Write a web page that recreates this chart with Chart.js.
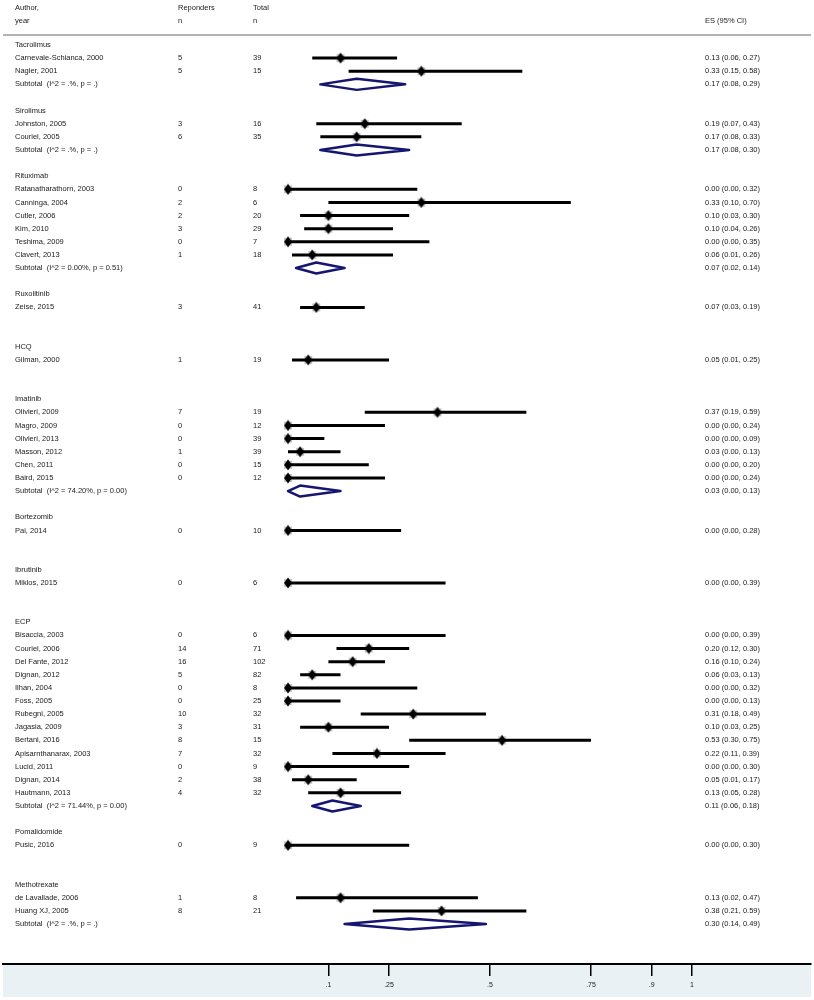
<!DOCTYPE html>
<html>
<head>
<meta charset="utf-8">
<script src="https://cdn.jsdelivr.net/npm/chart.js@4"></script>
<style>
  body { margin: 0; background: #fff; }
  canvas { display: block; }
</style>
</head>
<body>
<canvas id="forest" width="814" height="1000"></canvas>
<script>
// groups
const groupNames = ['Tacrolimus', 'Sirolimus', 'Rituximab', 'Ruxolitinib', 'HCQ', 'Imatinib',
  'Bortezomib', 'Ibrutinib', 'ECP', 'Pomalidomide', 'Methotrexate'];
const subHet = ['(I^2 = .%, p = .)', '(I^2 = .%, p = .)', '(I^2 = 0.00%, p = 0.51)', null, null,
  '(I^2 = 74.20%, p = 0.00)', null, null, '(I^2 = 71.44%, p = 0.00)', null, '(I^2 = .%, p = .)'];
const subES = [0.17, 0.17, 0.07, null, null, 0.03, null, null, 0.11, null, 0.30];
const subLo = [0.08, 0.08, 0.02, null, null, 0.00, null, null, 0.06, null, 0.14];
const subHi = [0.29, 0.30, 0.14, null, null, 0.13, null, null, 0.18, null, 0.49];

// studies
const studyGroup = [0, 0, 1, 1, 2, 2, 2, 2, 2, 2, 3, 4, 5, 5, 5, 5, 5, 5, 6, 7,
  8, 8, 8, 8, 8, 8, 8, 8, 8, 8, 8, 8, 8, 9, 10, 10];
const studyAuthor = ['Carnevale-Schianca, 2000', 'Nagler, 2001',
  'Johnston, 2005', 'Couriel, 2005',
  'Ratanatharathorn, 2003', 'Canninga, 2004', 'Cutler, 2006', 'Kim, 2010', 'Teshima, 2009', 'Clavert, 2013',
  'Zeise, 2015', 'Gilman, 2000',
  'Olivieri, 2009', 'Magro, 2009', 'Olivieri, 2013', 'Masson, 2012', 'Chen, 2011', 'Baird, 2015',
  'Pai, 2014', 'Miklos, 2015',
  'Bisaccia, 2003', 'Couriel, 2006', 'Del Fante, 2012', 'Dignan, 2012', 'Ilhan, 2004', 'Foss, 2005',
  'Rubegni, 2005', 'Jagasia, 2009', 'Bertani, 2016', 'Apisarnthanarax, 2003', 'Lucid, 2011',
  'Dignan, 2014', 'Hautmann, 2013',
  'Pusic, 2016', 'de Lavallade, 2006', 'Huang XJ, 2005'];
const studyResp = [5, 5, 3, 6, 0, 2, 2, 3, 0, 1, 3, 1, 7, 0, 0, 1, 0, 0, 0, 0,
  0, 14, 16, 5, 0, 0, 10, 3, 8, 7, 0, 2, 4, 0, 1, 8];
const studyTotal = [39, 15, 16, 35, 8, 6, 20, 29, 7, 18, 41, 19, 19, 12, 39, 39, 15, 12, 10, 6,
  6, 71, 102, 82, 8, 25, 32, 31, 15, 32, 9, 38, 32, 9, 8, 21];
const studyES = [0.13, 0.33, 0.19, 0.17, 0.00, 0.33, 0.10, 0.10, 0.00, 0.06, 0.07, 0.05,
  0.37, 0.00, 0.00, 0.03, 0.00, 0.00, 0.00, 0.00,
  0.00, 0.20, 0.16, 0.06, 0.00, 0.00, 0.31, 0.10, 0.53, 0.22, 0.00, 0.05, 0.13, 0.00, 0.13, 0.38];
const studyLo = [0.06, 0.15, 0.07, 0.08, 0.00, 0.10, 0.03, 0.04, 0.00, 0.01, 0.03, 0.01,
  0.19, 0.00, 0.00, 0.00, 0.00, 0.00, 0.00, 0.00,
  0.00, 0.12, 0.10, 0.03, 0.00, 0.00, 0.18, 0.03, 0.30, 0.11, 0.00, 0.01, 0.05, 0.00, 0.02, 0.21];
const studyHi = [0.27, 0.58, 0.43, 0.33, 0.32, 0.70, 0.30, 0.26, 0.35, 0.26, 0.19, 0.25,
  0.59, 0.24, 0.09, 0.13, 0.20, 0.24, 0.28, 0.39,
  0.39, 0.30, 0.24, 0.13, 0.32, 0.13, 0.49, 0.25, 0.75, 0.39, 0.30, 0.17, 0.28, 0.30, 0.47, 0.59];

// axis ticks
const tickVals = [0.1, 0.25, 0.5, 0.75, 0.9, 1];
const tickLabels = ['.1', '.25', '.5', '.75', '.9', '1'];

// row layout: header, studies, subtotal line (maybe empty), blank
const groupRow = [], subRow = [], studyRow = [];
let r = 0;
groupNames.forEach((g, gi) => {
  groupRow.push(r); r++;
  studyGroup.forEach((sg, si) => { if (sg === gi) { studyRow[si] = r; r++; } });
  subRow.push(r); r += 2;
});

const fmt = (e, l, h) => e.toFixed(2) + ' (' + l.toFixed(2) + ', ' + h.toFixed(2) + ')';

const ciData = [];
studyES.forEach((e, i) => {
  ciData.push({x: studyLo[i], y: studyRow[i]}, {x: studyHi[i], y: studyRow[i]}, {x: NaN, y: NaN});
});
const pointData = studyES.map((e, i) => ({x: e, y: studyRow[i]}));
const DH = 0.42;
const diamondData = [];
subES.forEach((e, gi) => {
  if (e === null) return;
  const y = subRow[gi];
  diamondData.push({x: subLo[gi], y: y}, {x: e, y: y - DH}, {x: subHi[gi], y: y},
    {x: e, y: y + DH}, {x: subLo[gi], y: y}, {x: e, y: y - DH}, {x: NaN, y: NaN});
});

// diamond marker with faint grey weight box
const marker = document.createElement('canvas');
marker.width = 10; marker.height = 12;
const mctx = marker.getContext('2d');
mctx.fillStyle = '#c8c8c8';
mctx.fillRect(1, 2, 8, 8);
mctx.fillStyle = '#000';
mctx.beginPath();
mctx.moveTo(5, 0.5); mctx.lineTo(9, 6); mctx.lineTo(5, 11.5); mctx.lineTo(1, 6);
mctx.closePath(); mctx.fill();

const FONT = '7.5px "Liberation Sans", Arial, sans-serif';
const TXT = '#1a1a1a';
const COL = [15, 178, 253, 705];

const tablePlugin = {
  id: 'table',
  beforeDraw(chart) {
    const ctx = chart.ctx, xs = chart.scales.x, ys = chart.scales.y;
    ctx.save();
    ctx.fillStyle = '#eaf1f4';
    ctx.fillRect(3, xs.top, 808, xs.bottom - xs.top);
    ctx.strokeStyle = '#b4b4b4';
    ctx.lineWidth = 2;
    const yl = ys.getPixelForValue(-0.76);
    ctx.beginPath(); ctx.moveTo(3, yl); ctx.lineTo(811, yl); ctx.stroke();
    ctx.restore();
  },
  afterDraw(chart) {
    const ctx = chart.ctx, ys = chart.scales.y;
    ctx.save();
    ctx.font = FONT;
    ctx.fillStyle = TXT;
    ctx.textBaseline = 'middle';
    ctx.textAlign = 'left';
    const put = (t, x, row) => ctx.fillText(t, x, ys.getPixelForValue(row));
    put('Author,', COL[0], -2.83); put('year', COL[0], -1.85);
    put('Reponders', COL[1], -2.83); put('n', COL[1], -1.85);
    put('Total', COL[2], -2.83); put('n', COL[2], -1.85);
    put('ES (95% CI)', COL[3], -1.85);
    groupNames.forEach((g, gi) => {
      put(g, COL[0], groupRow[gi]);
      if (subHet[gi] !== null) {
        put('Subtotal  ' + subHet[gi], COL[0], subRow[gi]);
        put(fmt(subES[gi], subLo[gi], subHi[gi]), COL[3], subRow[gi]);
      }
    });
    studyAuthor.forEach((a, i) => {
      put(a, COL[0], studyRow[i]);
      put(String(studyResp[i]), COL[1], studyRow[i]);
      put(String(studyTotal[i]), COL[2], studyRow[i]);
      put(fmt(studyES[i], studyLo[i], studyHi[i]), COL[3], studyRow[i]);
    });
    ctx.restore();
  }
};

new Chart(document.getElementById('forest'), {
  type: 'scatter',
  data: {
    datasets: [
      {
        data: ciData,
        showLine: true,
        spanGaps: false,
        borderColor: '#000',
        borderWidth: 3,
        borderCapStyle: 'butt',
        pointRadius: 0
      },
      {
        data: diamondData,
        showLine: true,
        spanGaps: false,
        borderColor: '#161670',
        borderWidth: 2.5,
        borderJoinStyle: 'round',
        borderCapStyle: 'round',
        pointRadius: 0
      },
      {
        data: pointData,
        pointStyle: marker,
        pointRadius: 5
      }
    ]
  },
  plugins: [tablePlugin],
  options: {
    responsive: false,
    animation: false,
    layout: { autoPadding: false, padding: { left: 3, right: 3, top: 0, bottom: 3 } },
    plugins: {
      legend: { display: false },
      tooltip: { enabled: false }
    },
    scales: {
      x: {
        type: 'linear',
        min: -0.70545,
        max: 1.29455,
        afterBuildTicks: scale => { scale.ticks = tickVals.map(v => ({ value: v })); },
        afterFit: scale => { scale.height = 33; },
        grid: { drawOnChartArea: false, color: '#000', lineWidth: 1.5, tickLength: 12 },
        border: { display: true, color: '#000', width: 2 },
        ticks: {
          autoSkip: false,
          maxRotation: 0,
          padding: 5,
          color: TXT,
          font: { family: '"Liberation Sans", Arial, sans-serif', size: 7 },
          callback: v => tickLabels[tickVals.indexOf(v)]
        }
      },
      y: {
        type: 'linear',
        reverse: true,
        display: false,
        min: -3.43,
        max: 70.046
      }
    }
  }
});
</script>
</body>
</html>
